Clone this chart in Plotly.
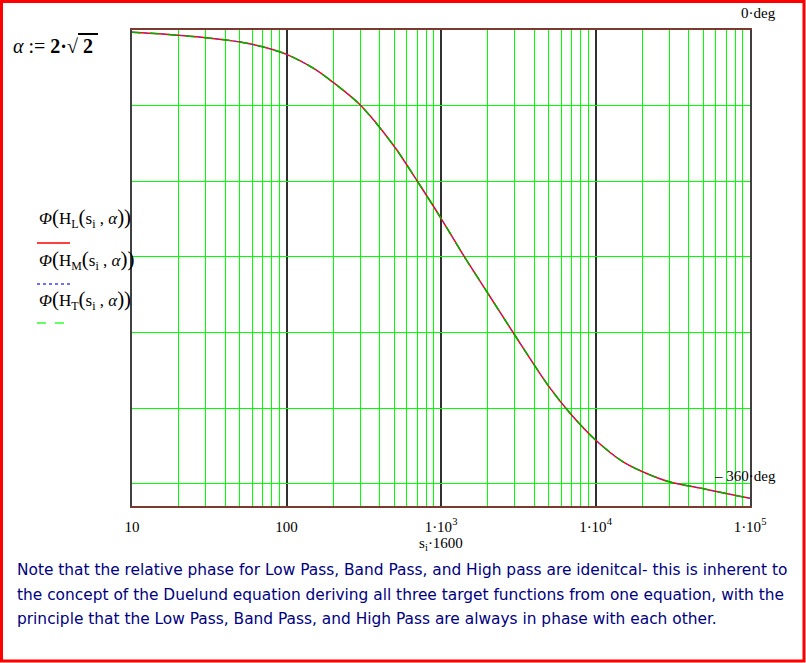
import plotly.graph_objects as go

# frequency points (s_i*1600) and phase, in degrees
freq = [10, 15, 20, 30, 50, 70, 100, 150, 200, 300, 500, 700, 1000, 1416, 2000, 3000,
        5000, 7000, 10000, 15000, 20000, 30000, 50000, 70000, 100000]
phase_deg = [-1.8, -3.0, -4.2, -6.1, -9.5, -13.3, -19.3, -30.5, -41.5, -59.5, -92.6, -119.6,
             -149.4, -179.9, -208.5, -242.0, -283.0, -305.5, -325.3, -342.5, -350.3, -358.5,
             -364.0, -367.8, -371.6]

decades = [10, 100, 1000, 10000, 100000]
decade_text = ['10', '100', '1·10<sup>3</sup>', '1·10<sup>4</sup>', '1·10<sup>5</sup>']
minor_vals = [m * d for d in [10, 100, 1000, 10000] for m in range(2, 10)]
y_grid = [-60, -120, -180, -240, -300, -360]

# plot box in pixels
W, H = 806, 663
L, R, T, B = 132, 750, 30, 506


def px(x):
    return (x - L) / (R - L)


def py(y):
    return (B - y) / (B - T)


fig = go.Figure()

fig.add_trace(go.Scatter(x=freq, y=phase_deg, mode='lines', line_shape='spline',
                         line=dict(color='#FF0000', width=1.5, smoothing=0.8)))
fig.add_trace(go.Scatter(x=freq, y=phase_deg, mode='lines', line_shape='spline',
                         line=dict(color='#4040FF', width=1, dash='dot', smoothing=0.8)))
fig.add_trace(go.Scatter(x=freq, y=phase_deg, mode='lines', line_shape='spline',
                         line=dict(color='#00B000', width=1.5, dash='dash', smoothing=0.8)))

serif = 'Liberation Serif'

fig.update_xaxes(
    type='log', range=[1, 5],
    tickvals=decades, ticktext=decade_text, ticks='',
    tickfont=dict(family=serif, size=15, color='black'),
    ticklabelstandoff=6,
    showgrid=True, gridcolor='#303030', gridwidth=1.5,
    minor=dict(tickvals=minor_vals, showgrid=True, gridcolor='#00FF00', gridwidth=1, ticks=''),
    showline=True, mirror=True, linecolor='#7A3A30', linewidth=1.5,
    zeroline=False,
    title=dict(text='s<sub>i</sub>·1600', font=dict(family=serif, size=15, color='black'),
               standoff=2),
)
fig.update_yaxes(
    range=[-377.7, 0],
    tickvals=y_grid, showticklabels=False, ticks='',
    showgrid=True, gridcolor='#00FF00', gridwidth=1,
    showline=True, mirror=True, linecolor='#404040', linewidth=2,
    zeroline=False,
)

ann = []
ann.append(dict(x=px(11), y=py(46),
                text='<i>α</i> := <b>2·√<span style="text-decoration:overline"> 2 </span></b>',
                font=dict(family=serif, size=20, color='black'), xanchor='left', yanchor='middle'))
ann.append(dict(x=px(778), y=py(13), text='0·deg',
                font=dict(family=serif, size=15, color='black'), xanchor='right', yanchor='middle'))
ann.append(dict(x=px(778), y=py(476), text='‒ 360·deg',
                font=dict(family=serif, size=15, color='black'), xanchor='right', yanchor='middle'))

legend_labels = ['L', 'M', 'T']
legend_y = [218, 260, 300]
big = '<span style="font-size:21px">%s</span>'
for lab, yy in zip(legend_labels, legend_y):
    txt = ('<i>Φ</i>' + big % '(' + 'H<sub>%s</sub>' % lab + big % '(' +
           's<sub>i</sub> , <i>α</i>' + big % '))')
    ann.append(dict(x=px(37), y=py(yy), text=txt,
                    font=dict(family=serif, size=17, color='black'),
                    xanchor='left', yanchor='middle'))

note_lines = [
    'Note that the relative phase for Low Pass, Band Pass, and High pass are idenitcal- this is inherent to',
    'the concept of the Duelund equation deriving all three target functions from one equation, with the',
    'principle that the Low Pass, Band Pass, and High Pass are always in phase with each other.',
]
note_y = [570, 595, 619]
for line, yy in zip(note_lines, note_y):
    ann.append(dict(x=px(15), y=py(yy), text=line,
                    font=dict(family='DejaVu Sans', size=15.4, color='#000080'),
                    xanchor='left', yanchor='middle'))

for a in ann:
    a.update(xref='paper', yref='paper', showarrow=False)

shapes = [
    # red frame round the whole sheet
    dict(type='rect', xref='paper', yref='paper', x0=px(1.5), x1=px(W - 2), y0=py(H - 2), y1=py(1.5),
         line=dict(color='#FF0000', width=3)),
    # legend line samples
    dict(type='line', xref='paper', yref='paper', x0=px(37), x1=px(70), y0=py(243), y1=py(243),
         line=dict(color='#FF0000', width=1.5)),
    dict(type='line', xref='paper', yref='paper', x0=px(37), x1=px(70), y0=py(284), y1=py(284),
         line=dict(color='#4040FF', width=1.5, dash='dot')),
    dict(type='line', xref='paper', yref='paper', x0=px(37), x1=px(70), y0=py(323), y1=py(323),
         line=dict(color='#33FF33', width=1.5, dash='dash')),
]

fig.update_layout(
    width=W, height=H,
    margin=dict(l=L, r=W - R, t=T, b=H - B),
    plot_bgcolor='white', paper_bgcolor='white',
    showlegend=False,
    annotations=ann,
    shapes=shapes,
)

fig.write_html('out.html', config={'displayModeBar': False},
               post_script="document.body.style.margin='0';")
